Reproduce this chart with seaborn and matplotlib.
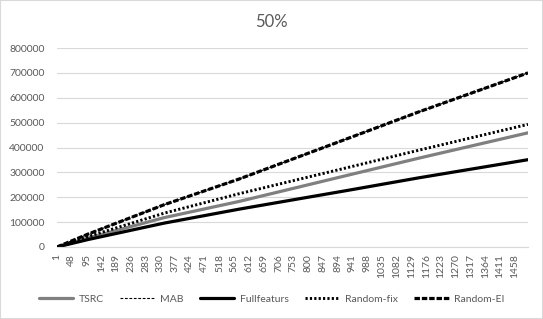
import matplotlib
matplotlib.use("Agg")
import numpy as np
import pandas as pd
import seaborn as sns
from matplotlib import pyplot as plt
from matplotlib.patches import Rectangle

# values at a few sample indices
steps = [1, 100, 342, 580, 928, 1152, 1500]
tsrc = [0, 36000, 118000, 183000, 289000, 357000, 459000]
mab = [0, 52000, 170000, 273000, 437000, 543000, 700000]
fullfeaturs = [0, 30000, 96000, 152000, 228000, 278000, 351000]
random_fix = [0, 42000, 136000, 214000, 320000, 389000, 493000]
random_ei = [0, 52000, 170000, 273000, 437000, 543000, 700000]

x_ticks = list(range(1, 1459, 47))
y_ticks = list(range(0, 800001, 100000))

TEXT = "#595959"
GRID = "#d9d9d9"

sns.set_theme(style="white")
plt.rcParams["font.family"] = ["Lato", "DejaVu Sans"]

df = pd.DataFrame({
    "step": steps,
    "TSRC": tsrc,
    "MAB": mab,
    "Fullfeaturs": fullfeaturs,
    "Random-fix": random_fix,
    "Random-EI": random_ei,
})

styles = {
    "TSRC": dict(color="#808080", lw=2.3, ls="-"),
    "MAB": dict(color="black", lw=0.8, ls=(0, (2.5, 1.5))),
    "Fullfeaturs": dict(color="black", lw=2.3, ls="-"),
    "Random-fix": dict(color="black", lw=2.1, ls=(0, (0.75, 0.75))),
    "Random-EI": dict(color="black", lw=2.3, ls=(0, (1.7, 0.6))),
}

fig = plt.figure(figsize=(5.43, 3.19), dpi=100)
ax = fig.add_axes([57 / 543, 1 - 247 / 319, (528 - 57) / 543, (247 - 48) / 319])

for name, st in styles.items():
    sns.lineplot(data=df, x="step", y=name, ax=ax, label=name, **st)

ax.set_xlim(1, 1500)
ax.set_ylim(0, 800000)
ax.set_xticks(x_ticks)
ax.set_xticklabels([str(t) for t in x_ticks], rotation=90, fontsize=7.5, color=TEXT)
ax.set_yticks(y_ticks)
ax.set_yticklabels([str(t) for t in y_ticks], fontsize=7.5, color=TEXT)
ax.tick_params(axis="y", length=0, pad=9)
ax.tick_params(axis="x", length=0, pad=5)
ax.set_xlabel("")
ax.set_ylabel("")
ax.grid(axis="y", color=GRID, lw=0.8)
ax.set_axisbelow(True)
for s in ["top", "right", "left"]:
    ax.spines[s].set_visible(False)
ax.spines["bottom"].set_color(GRID)
ax.spines["bottom"].set_linewidth(0.8)

ax.legend_.remove()
handles, labels = ax.get_legend_handles_labels()
leg = fig.legend(handles, labels, loc="center", bbox_to_anchor=(0.5, 1 - 299 / 319),
                 ncol=5, frameon=False, fontsize=7.5, handlelength=3.3,
                 handletextpad=0.5, columnspacing=1.6)
for t in leg.get_texts():
    t.set_color(TEXT)

fig.text(0.5, 1 - 22 / 319, "50%", ha="center", va="center", fontsize=12, color=TEXT)
fig.patches.append(Rectangle((0, 0), 1, 1, transform=fig.transFigure, fill=False,
                             edgecolor=GRID, lw=1.5))

fig.savefig("out.png", dpi=100)
